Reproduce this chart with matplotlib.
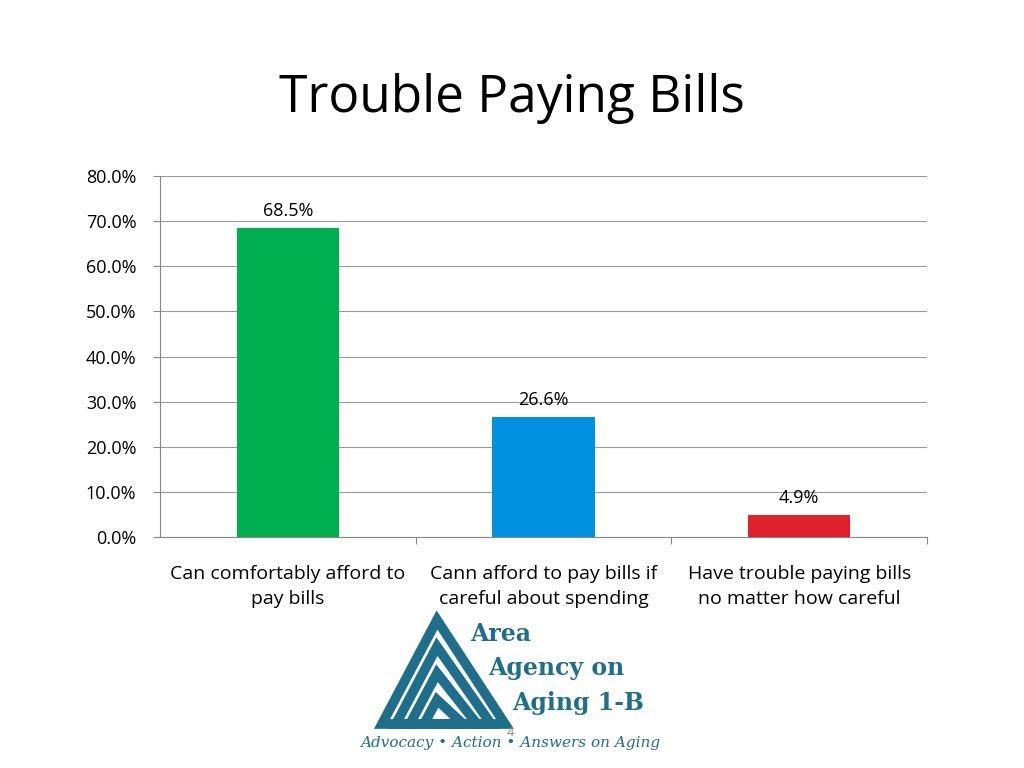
import matplotlib
matplotlib.use("Agg")
import matplotlib.pyplot as plt
from matplotlib.patches import Polygon

categories = ["Can comfortably afford to\npay bills", "Cann afford to pay bills if\ncareful about spending", "Have trouble paying bills\nno matter how careful"]
values = [68.5, 26.6, 4.9]
colors = ["#00B050", "#0090E0", "#E0202A"]

plt.rcParams['font.family'] = ['Open Sans', 'DejaVu Sans']
fig = plt.figure(figsize=(10.24, 7.68), dpi=100)
ax = fig.add_axes([160/1024, 1-537/768, 767/1024, 361/768])
x = range(len(values))
ax.bar(x, values, width=0.4, color=colors, zorder=3)
for i, v in enumerate(values):
    ax.text(i, v + 1.8, f"{v:.1f}%", ha='center', va='bottom', fontsize=13)
ax.set_xlim(-0.5, 2.5)
ax.set_ylim(0, 80)
ax.set_yticks(range(0, 81, 10))
ax.set_yticklabels([f"{t:.1f}%" for t in range(0, 81, 10)], fontsize=13)
ax.tick_params(axis='y', pad=12)
ax.set_xticks([0.5, 1.5, 2.5], minor=False)
ax.set_xticklabels([])
ax.set_xticks(list(x), minor=True)
ax.set_xticklabels(categories, minor=True, fontsize=14, linespacing=1.55)
ax.tick_params(axis='x', which='minor', length=0, pad=20)
ax.tick_params(axis='x', which='major', length=5, color='#888888')
ax.tick_params(axis='y', length=5, color='#888888')
ax.grid(axis='y', color='#999999', linewidth=0.8, zorder=0)
for s in ['top', 'right']:
    ax.spines[s].set_visible(False)
for s in ['left', 'bottom']:
    ax.spines[s].set_color('#888888')

fig.text(0.5, 1-98/768, "Trouble Paying Bills", ha='center', va='center', fontsize=37)

# logo approximation
lax = fig.add_axes([0, 0, 1, 1], zorder=-1)
lax.set_xlim(0, 1024); lax.set_ylim(768, 0); lax.axis('off')
teal = '#1F6E8C'
for k in range(4):
    d = k * 14
    lax.add_patch(Polygon([[382 + d, 724], [437, 620 + d * 1.9], [505 - d, 724]],
                          closed=True, fill=False, edgecolor=teal, linewidth=7))
kw = dict(color=teal, fontweight='bold', family='DejaVu Serif', va='center')
lax.text(470, 634, "Area", fontsize=17, **kw)
lax.text(488, 668, "Agency on", fontsize=17, **kw)
lax.text(512, 703, "Aging 1-B", fontsize=17, **kw)
lax.text(510, 743, "Advocacy • Action • Answers on Aging", color=teal, fontsize=11, style='italic',
         family='DejaVu Serif', ha='center', va='center')
lax.text(510, 733, "4", color='#888888', fontsize=9, ha='center', va='center')

fig.savefig("out.png", dpi=100)
